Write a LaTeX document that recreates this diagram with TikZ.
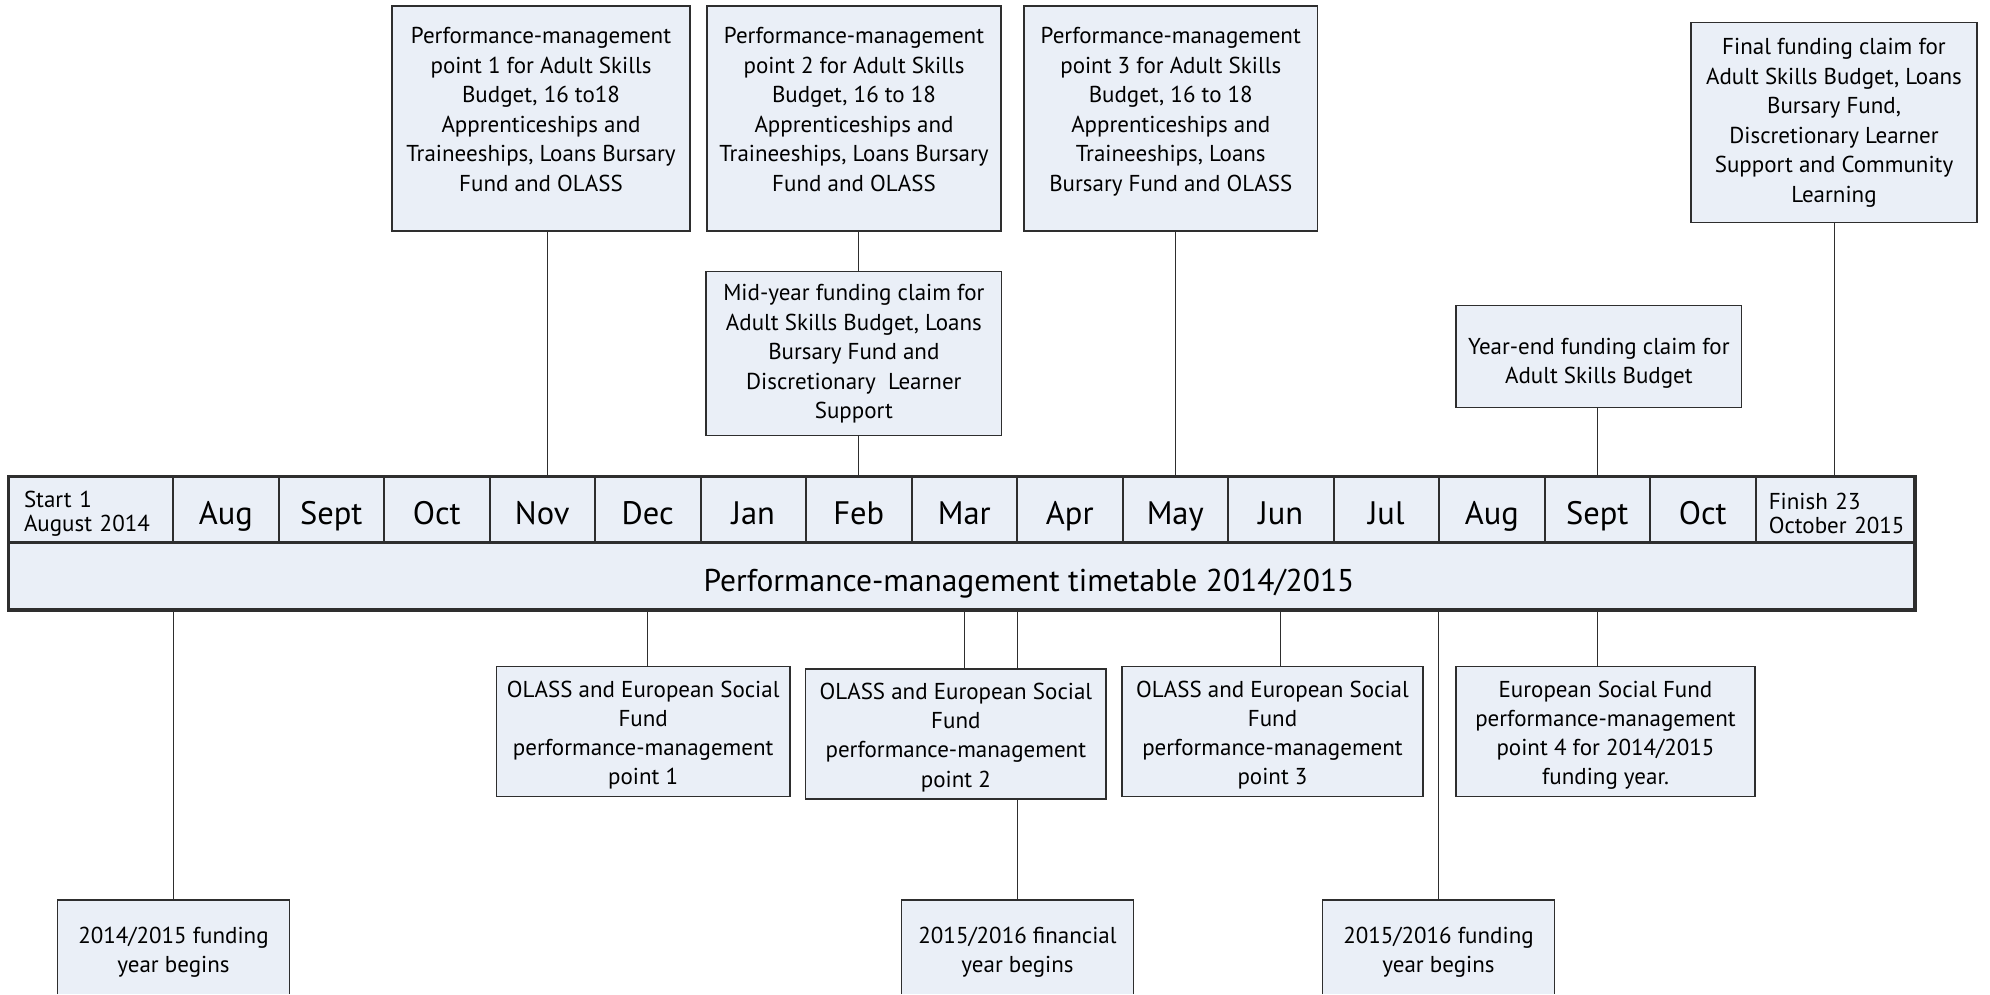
\documentclass[tikz,border=0pt]{standalone}
\usepackage{fontspec}
\setmainfont{PT Sans}
\usetikzlibrary{calc}
\definecolor{boxfill}{HTML}{EAEFF7}
\definecolor{edge}{HTML}{2E2E2E}
\begin{document}
\begin{tikzpicture}[x=1pt,y=-1pt,
  box/.style={draw=edge, fill=boxfill, line width=1.4pt, align=center, inner sep=0pt,
    font=\fontsize{23}{29.5}\selectfont},
  lowbox/.style={box, font=\fontsize{23}{29.2}\selectfont},
  openbox/.style={draw=none, fill=boxfill, align=center, inner sep=0pt,
    minimum width=232pt, minimum height=94pt, font=\fontsize{23}{29.5}\selectfont},
  month/.style={draw=edge, fill=boxfill, line width=2pt, inner sep=0pt,
    minimum height=66pt, minimum width=105.5pt, text height=30pt, text depth=2pt,
    font=\fontsize{32.5}{34}\selectfont},
  endcell/.style={draw=edge, fill=boxfill, line width=2pt, inner sep=0pt,
    minimum height=66pt, align=left, font=\fontsize{23}{24}\selectfont},
  link/.style={draw=edge, line width=1.1pt},
  edgeline/.style={draw=edge, line width=1.4pt}]
\useasboundingbox (0,0) rectangle (1990,994);

% timeline bar
\node[endcell, minimum width=164pt, text width=134pt] (m0) at (91,510) {\mbox{}\\Start 1\\August 2014};
\foreach \i/\t in {1/Aug,2/Sept,3/Oct,4/Nov,5/Dec,6/Jan,7/Feb,8/Mar,9/Apr,10/May,11/Jun,12/Jul,13/Aug,14/Sept,15/Oct}
  \node[month] (m\i) at ({173+105.5*(\i-0.5)},510) {\t};
\node[endcell, minimum width=158.5pt, text width=132pt] (m16) at (1834.75,510)
  {\mbox{}\\Finish 23\\\makebox[132pt][l]{October 2015}};
\node[draw=edge, fill=boxfill, line width=2pt, inner sep=0pt, minimum width=1905pt, minimum height=66pt,
  text height=31pt, text depth=1pt,
  font=\fontsize{31.5}{34}\selectfont] (bar) at (961.5,576) {\hspace*{135pt}Performance-management timetable 2014/2015};
\draw[edge, line width=3pt] (m0.north west) rectangle (bar.south east);
\draw[edge, line width=3pt] (bar.north west) -- (bar.north east);

% top boxes
\node[box, minimum width=298pt, minimum height=225pt] (pm1) at (541,118.5)
  {Performance-management\\point 1 for Adult Skills\\Budget, 16 to18\\Apprenticeships and\\Traineeships, Loans Bursary\\Fund and OLASS\\[-11.5pt]\mbox{}};
\node[box, minimum width=294pt, minimum height=225pt] (pm2) at (854,118.5)
  {Performance-management\\point 2 for Adult Skills\\Budget, 16 to 18\\Apprenticeships and\\Traineeships, Loans Bursary\\Fund and OLASS\\[-11.5pt]\mbox{}};
\node[box, minimum width=293.5pt, minimum height=225pt] (pm3) at (1170.75,118.5)
  {Performance-management\\point 3 for Adult Skills\\Budget, 16 to 18\\Apprenticeships and\\Traineeships, Loans\\Bursary Fund and OLASS\\[-11.5pt]\mbox{}};
\node[box, minimum width=286pt, minimum height=200pt] (final) at (1834,122.7)
  {Final funding claim for\\Adult Skills Budget, Loans\\Bursary Fund,\\Discretionary Learner\\Support and Community\\Learning};
\node[box, minimum width=295.7pt, minimum height=164pt] (mid) at (853.85,353.7)
  {Mid-year funding claim for\\Adult Skills Budget, Loans\\Bursary Fund and\\Discretionary\ \ Learner\\Support};
\node[box, minimum width=285.7pt, minimum height=101.6pt] (yearend) at (1598.85,356.5)
  {\mbox{}\\Year-end funding claim for\\Adult Skills Budget};

% lower boxes
\node[lowbox, minimum width=293.6pt, minimum height=130pt] (ol1) at (643.2,731.7)
  {\mbox{}\\[-6pt]OLASS and European Social\\Fund\\performance-management\\point 1};
\node[lowbox, minimum width=300.3pt, minimum height=130pt] (ol2) at (955.85,734)
  {\mbox{}\\[-6pt]OLASS and European Social\\Fund\\performance-management\\point 2};
\node[lowbox, minimum width=301pt, minimum height=130pt] (ol3) at (1272.5,731.7)
  {\mbox{}\\[-6pt]OLASS and European Social\\Fund\\performance-management\\point 3};
\node[lowbox, minimum width=299pt, minimum height=130pt] (esf) at (1605.5,731.7)
  {\mbox{}\\[-6pt]European Social Fund\\performance-management\\point 4 for 2014/2015\\funding year.};

% bottom boxes (cut by the page edge)
\node[openbox] (fy1) at (173.5,947) {\mbox{}\\[-2.5pt]2014/2015 funding\\year begins};
\node[openbox] (fin) at (1017.5,947) {\mbox{}\\[-2.5pt]2015/2016 financial\\year begins};
\node[openbox] (fy2) at (1438.5,947) {\mbox{}\\[-2.5pt]2015/2016 funding\\year begins};
\foreach \b in {fy1,fin,fy2}
  \draw[edgeline] (\b.south west) -- (\b.north west) -- (\b.north east) -- (\b.south east);

% connectors above the bar
\draw[link] ($(m4.north)+(5,0)$) -- ($(m4.north |- pm1.south)+(5,0)$);
\draw[link] (m7.north |- pm2.south) -- (m7.north |- mid.north);
\draw[link] (m7.north |- mid.south) -- (m7.north);
\draw[link] (m10.north) -- (m10.north |- pm3.south);
\draw[link] (m14.north) -- (m14.north |- yearend.south);
\draw[link] (m16.north) -- (m16.north |- final.south);

% connectors below the bar
\draw[link] (fy1.north |- bar.south) -- (fy1.north);
\draw[link] (m5.south |- bar.south) -- (m5.south |- ol1.north);
\draw[link] (m8.south |- bar.south) -- (m8.south |- ol2.north);
\draw[link] (fin.north |- bar.south) -- (fin.north |- ol2.north);
\draw[link] (fin.north |- ol2.south) -- (fin.north);
\draw[link] (m11.south |- bar.south) -- (m11.south |- ol3.north);
\draw[link] (fy2.north |- bar.south) -- (fy2.north);
\draw[link] (m14.south |- bar.south) -- (m14.south |- esf.north);
\end{tikzpicture}
\end{document}
